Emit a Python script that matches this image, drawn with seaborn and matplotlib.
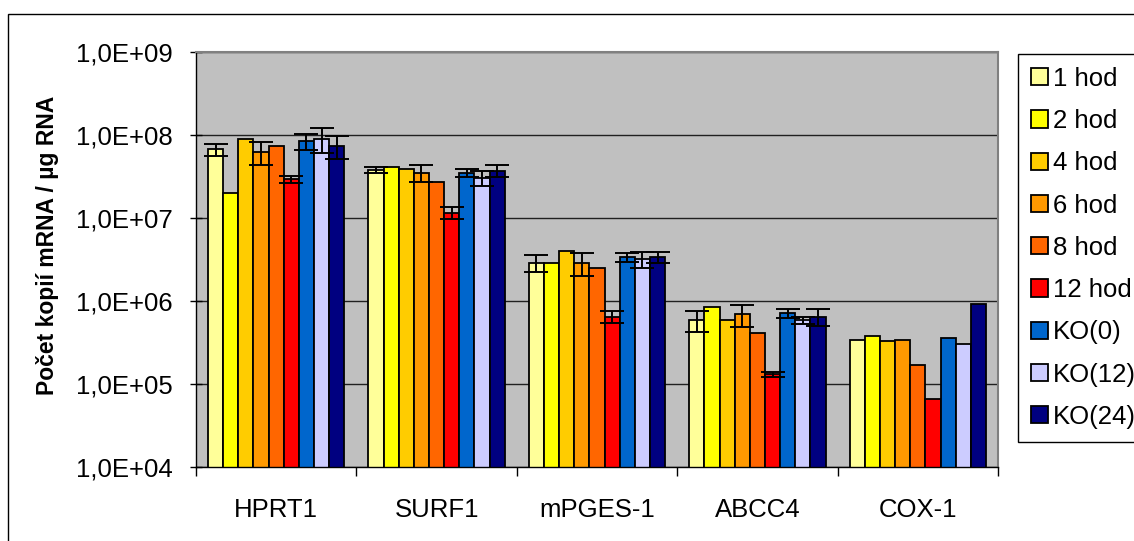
import numpy as np
import pandas as pd
import matplotlib
matplotlib.use("Agg")
import matplotlib.pyplot as plt
import seaborn as sns
from matplotlib.patches import Rectangle
from matplotlib.ticker import FixedLocator, NullLocator

# Genes on the x axis and the sampled time points / knockouts
genes = ["HPRT1", "SURF1", "mPGES-1", "ABCC4", "COX-1"]
samples = ["1 hod", "2 hod", "4 hod", "6 hod", "8 hod", "12 hod", "KO(0)", "KO(12)", "KO(24)"]
colors = ["#FFFF99", "#FFFF00", "#FFCC00", "#FF9900", "#FF6600",
          "#FF0000", "#0066CC", "#CCCCFF", "#000080"]

# Copy numbers per sample, one value per gene (in the order of `genes`)
v_1h = [6.7e7, 3.8e7, 2.9e6, 5.9e5, 3.4e5]
v_2h = [2.0e7, 4.1e7, 2.9e6, 8.5e5, 3.8e5]
v_4h = [9.0e7, 3.9e7, 4.0e6, 5.9e5, 3.3e5]
v_6h = [6.3e7, 3.5e7, 2.9e6, 6.9e5, 3.4e5]
v_8h = [7.4e7, 2.7e7, 2.5e6, 4.15e5, 1.7e5]
v_12h = [2.95e7, 1.16e7, 6.5e5, 1.31e5, 6.6e4]
v_ko0 = [8.5e7, 3.5e7, 3.36e6, 7.2e5, 3.6e5]
v_ko12 = [9.0e7, 3.05e7, 3.2e6, 5.9e5, 3.0e5]
v_ko24 = [7.4e7, 3.7e7, 3.4e6, 6.5e5, 9.3e5]

# Standard deviations (0 = no error bar shown)
e_1h = [1.1e7, 3.0e6, 6.5e5, 1.7e5, 0]
e_2h = [0, 0, 0, 0, 0]
e_4h = [0, 0, 0, 0, 0]
e_6h = [2.0e7, 8.0e6, 9.0e5, 2.1e5, 0]
e_8h = [0, 0, 0, 0, 0]
e_12h = [3.0e6, 2.0e6, 1.1e5, 1.0e4, 0]
e_ko0 = [1.9e7, 4.0e6, 4.0e5, 9.0e4, 0]
e_ko12 = [3.0e7, 6.0e6, 7.0e5, 6.0e4, 0]
e_ko24 = [2.2e7, 6.0e6, 5.0e5, 1.5e5, 0]

ytick_values = [1e4, 1e5, 1e6, 1e7, 1e8, 1e9]
ytick_labels = ["1,0E+04", "1,0E+05", "1,0E+06", "1,0E+07", "1,0E+08", "1,0E+09"]

values = [v_1h, v_2h, v_4h, v_6h, v_8h, v_12h, v_ko0, v_ko12, v_ko24]
errors = [e_1h, e_2h, e_4h, e_6h, e_8h, e_12h, e_ko0, e_ko12, e_ko24]

rows = []
for s, vals in zip(samples, values):
    for g, v in zip(genes, vals):
        rows.append({"gen": g, "vzorek": s, "kopie": v})
df = pd.DataFrame(rows)

plt.rcParams["font.family"] = ["Liberation Sans", "DejaVu Sans"]
FS = 18.5

fig = plt.figure(figsize=(11.34, 5.41), dpi=100)
ax = fig.add_axes([196 / 1134, 1 - 467 / 541, 802 / 1134, 415 / 541])
ax.set_facecolor("#C0C0C0")

sns.barplot(data=df, x="gen", y="kopie", hue="vzorek", order=genes,
            hue_order=samples, palette=colors, saturation=1, width=0.85,
            gap=0, errorbar=None, edgecolor="black", linewidth=1.3,
            ax=ax, zorder=2)
ax.set_yscale("log")

# Error bars on top of each bar
for cont, vals, errs in zip(ax.containers, values, errors):
    xs = np.array([p.get_x() + p.get_width() / 2 for p in cont])
    vals = np.asarray(vals, dtype=float)
    errs = np.asarray(errs, dtype=float)
    m = errs > 0
    if m.any():
        ax.errorbar(xs[m], vals[m], yerr=errs[m], fmt="none", ecolor="black",
                    elinewidth=1.4, capsize=8.5, capthick=1.4, zorder=3)

ax.set_ylim(1e4, 1e9)
ax.set_xlim(-0.5, len(genes) - 0.5)

# y axis: decade ticks with Excel-style labels
ax.set_yticks(ytick_values, labels=ytick_labels)
ax.yaxis.set_minor_locator(NullLocator())
ax.tick_params(axis="y", which="major", direction="inout", length=9,
               width=1, labelsize=FS, pad=12, color="black")
ax.yaxis.grid(True, color="#202020", linewidth=1)
ax.set_axisbelow(True)

# x axis: labels centred on groups, ticks between groups
ax.set_xticks(range(len(genes)), labels=genes)
ax.xaxis.set_minor_locator(FixedLocator(np.arange(-0.5, len(genes), 1.0)))
ax.tick_params(axis="x", which="major", length=0, labelsize=FS, pad=22)
ax.tick_params(axis="x", which="minor", direction="out", length=6.5,
               width=1, color="black")
ax.set_xlabel("")

ax.set_ylabel("Počet kopií mRNA / µg RNA", fontsize=16.5, fontweight="bold")
ax.yaxis.label.set_va("center")
ax.yaxis.set_label_coords((48 - 196) / 802, 0.535)

for side in ("left", "bottom"):
    ax.spines[side].set_color("black")
    ax.spines[side].set_linewidth(1)
for side in ("top", "right"):
    ax.spines[side].set_color("#808080")
    ax.spines[side].set_linewidth(1.5)

handles, labels = ax.get_legend_handles_labels()
ax.legend(handles, labels, loc="upper left",
          bbox_to_anchor=(1018 / 1134, 1 - 54 / 541),
          bbox_transform=fig.transFigure, borderaxespad=0, fontsize=FS,
          frameon=True, fancybox=False, edgecolor="black", framealpha=1,
          handlelength=0.65, handleheight=0.65, handletextpad=0.2,
          borderpad=0.5, labelspacing=0.71)
leg = ax.get_legend()
leg.get_frame().set_linewidth(1)

# Outer chart frame
fig.add_artist(Rectangle((8 / 1134, -0.1), 1.2, 1 - 14 / 541 + 0.1,
                         transform=fig.transFigure, fill=False,
                         edgecolor="black", linewidth=1))

fig.savefig("out.png", dpi=100)
